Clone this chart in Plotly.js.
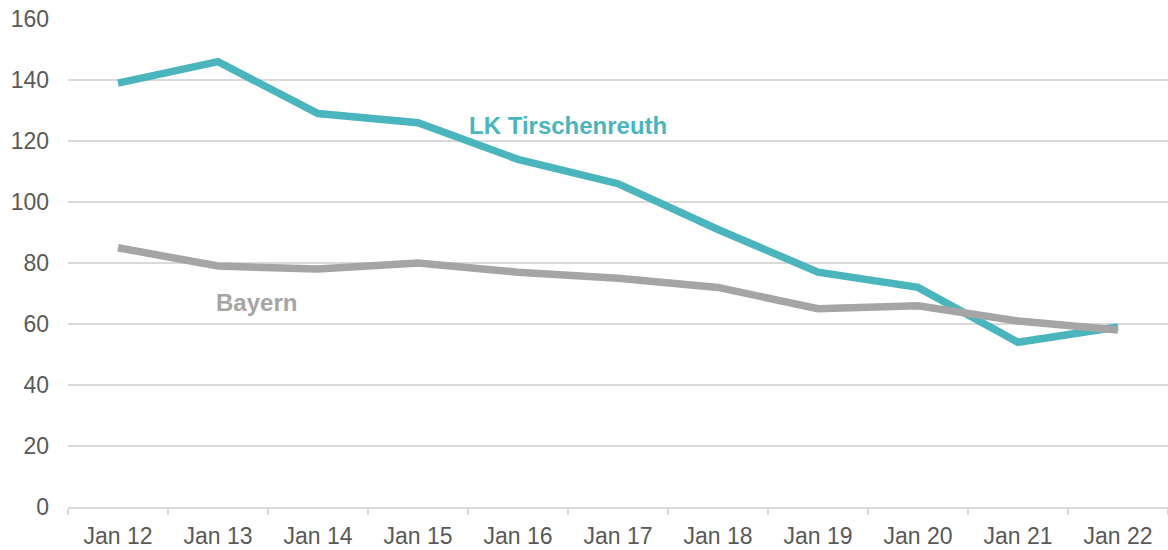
<!DOCTYPE html>
<html>
<head>
<meta charset="utf-8">
<script src="https://cdn.plot.ly/plotly-3.0.1.min.js"></script>
<style>html,body{margin:0;padding:0;background:#fff;}#chart{width:1168px;height:550px;}</style>
</head>
<body>
<div id="chart"></div>
<script>
const categories = ["Jan 12","Jan 13","Jan 14","Jan 15","Jan 16","Jan 17","Jan 18","Jan 19","Jan 20","Jan 21","Jan 22"];
const tirschenreuth = [139,146,129,126,114,106,91,77,72,54,59];
const bayern = [85,79,78,80,77,75,72,65,66,61,58];
const yTicks = [0,20,40,60,80,100,120,140,160];

const teal = "#4BB5BE";
const gray = "#A5A5A5";

const traces = [
  {x: categories, y: tirschenreuth, type: "scatter", mode: "lines", name: "LK Tirschenreuth",
   line: {color: teal, width: 7.5}},
  {x: categories, y: bayern, type: "scatter", mode: "lines", name: "Bayern",
   line: {color: gray, width: 7.5}}
];

const layout = {
  width: 1168, height: 550,
  margin: {l: 68, r: 0, t: 19, b: 43},
  paper_bgcolor: "#fff", plot_bgcolor: "#fff",
  showlegend: false,
  font: {family: "Liberation Sans, Arial, sans-serif", color: "#595959", size: 23},
  xaxis: {
    type: "category", range: [-0.5, 10.5], tickson: "boundaries",
    showgrid: false, showline: true, linecolor: "#D9D9D9", linewidth: 2,
    ticks: "outside", ticklen: 6, tickwidth: 2, tickcolor: "#D9D9D9",
    ticklabelstandoff: 7,
    tickfont: {size: 23, color: "#595959"}, zeroline: false, fixedrange: true
  },
  yaxis: {
    range: [0, 160], tickvals: yTicks, ticktext: yTicks.map(String),
    showgrid: true, gridcolor: "#D9D9D9", gridwidth: 1.5,
    zeroline: false, showline: false, ticks: "", ticklabelstandoff: 18,
    tickfont: {size: 23, color: "#595959"}, fixedrange: true
  },
  annotations: [
    {x: 4.5, y: 125, xref: "x", yref: "y", text: "<b>LK Tirschenreuth</b>", showarrow: false,
     font: {size: 24, color: teal}},
    {x: 1.38, y: 67, xref: "x", yref: "y", text: "<b>Bayern</b>", showarrow: false,
     font: {size: 24, color: gray}}
  ]
};

Plotly.newPlot("chart", traces, layout, {displayModeBar: false, staticPlot: true});
</script>
</body>
</html>
